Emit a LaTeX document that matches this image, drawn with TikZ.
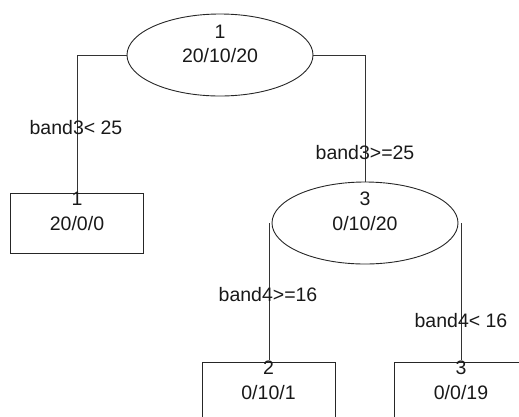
\documentclass[tikz,border=0pt]{standalone}
\usepackage{fontspec}
\setmainfont{Liberation Sans}
\usetikzlibrary{shapes.geometric}
\begin{document}
\begin{tikzpicture}[x=1pt,y=-1pt,
  every node/.style={font=\fontsize{19.5}{22}\selectfont, text=black!90, inner sep=0pt},
  split/.style={draw=black!85, line width=0.9pt, ellipse, minimum width=186pt, minimum height=82pt},
  leafbox/.style={draw=black!85, line width=0.9pt, rectangle, minimum width=133pt, minimum height=60pt},
  edge/.style={draw=black!80, line width=0.9pt},
  txt/.style={anchor=center}]
\useasboundingbox (0,0) rectangle (519,416);
% nodes
\node[split] (n1) at (220,55) {};
\node[split] (n3) at (365,223) {};
\node[leafbox, anchor=north] (l1) at (76.5,193) {};
\node[leafbox, anchor=north] (l2) at (268.5,362) {};
\node[anchor=north west, minimum width=133pt, minimum height=60pt] (l3) at (394.5,362) {};
\draw[draw=black!85, line width=0.9pt] (l3.south west) -- (l3.north west) -- (l3.north east);
% connectors
\coordinate (l1top) at (77,205);
\coordinate (n3l) at (269,223);
\coordinate (n3r) at (461,223);
\coordinate (l2top) at (269,360);
\coordinate (l3top) at (461,360);
\draw[edge] (n1.west) -| (l1top);
\draw[edge] (n1.east) -| (n3.north);
\draw[edge] (n3l) -- (l2top);
\draw[edge] (n3r) -- (l3top);
% texts
\node[txt] (t1a) at (220,32) {1};
\node[txt] (t1b) at (220,56) {20/10/20};
\node[txt] (t3a) at (365,199) {3};
\node[txt] (t3b) at (365,224) {0/10/20};
\node[txt] (tl1a) at (77,199) {1};
\node[txt] (tl1b) at (77,224) {20/0/0};
\node[txt] (tl2a) at (268.5,368) {2};
\node[txt] (tl2b) at (268.5,393) {0/10/1};
\node[txt] (tl3a) at (461,368) {3};
\node[txt] (tl3b) at (461,393) {0/0/19};
\node[txt] (e1) at (76,128) {band3< 25};
\node[txt] (e2) at (365,153) {band3>=25};
\node[txt] (e3) at (268,295) {band4>=16};
\node[txt] (e4) at (461,321) {band4< 16};
\end{tikzpicture}
\end{document}
